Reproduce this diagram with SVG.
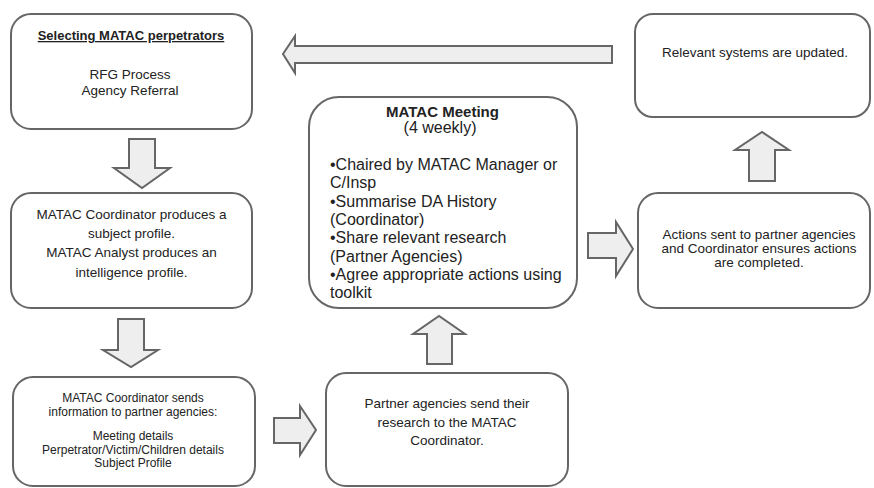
<svg xmlns="http://www.w3.org/2000/svg" width="874" height="488" viewBox="0 0 874 488">
<style>
.box{fill:#fff;stroke:#666;stroke-width:2}
.arr{fill:#eeeeee;stroke:#666;stroke-width:2;stroke-linejoin:miter}
text{font-family:"Liberation Sans",Arial,sans-serif;fill:#222;font-size:13.5px}
.c{text-anchor:middle}
.h{font-weight:bold;font-size:13px;text-decoration:underline}
.m{font-size:16px}
.mh{font-weight:bold;font-size:15px}
.s{font-size:12px}
</style>
<rect width="874" height="488" fill="#fff"/>
<g id="connectors">
<polygon class="arr" points="612,46 295,46 295,36 283,54 295,73 295,63 612,63"/>
<polygon class="arr" points="129,139 155,139 155,168 170,168 142,188 114,168 129,168"/>
<polygon class="arr" points="118,319 144,319 144,350 158,350 131,367 103,350 118,350"/>
<polygon class="arr" points="274,418 300,418 300,406 316,430 300,455 300,443 274,443"/>
<polygon class="arr" points="427,364 452,364 452,334 465,334 439,316 413,334 427,334"/>
<polygon class="arr" points="588,233 616,233 616,222 633,249 616,276 616,258 588,258"/>
<polygon class="arr" points="749,181 775,181 775,150 789,150 762,132 735,150 749,150"/>
</g>
<g id="node-select">
<rect class="box" x="11" y="14" width="241" height="115" rx="20"/>
<text class="c h" x="131" y="40">Selecting MATAC perpetrators</text>
<text class="c" x="130" y="79">RFG Process</text>
<text class="c" x="130" y="95">Agency Referral</text>
</g>
<g id="node-profile">
<rect class="box" x="11" y="193" width="241" height="115" rx="20"/>
<text class="c" x="131.5" y="219">MATAC Coordinator produces a</text>
<text class="c" x="131.5" y="238">subject profile.</text>
<text class="c" x="131.5" y="257">MATAC Analyst produces an</text>
<text class="c" x="131.5" y="277">intelligence profile.</text>
</g>
<g id="node-send">
<rect class="box" x="13" y="377" width="242" height="109" rx="20"/>
<text class="c s" x="133" y="402">MATAC Coordinator sends</text>
<text class="c s" x="133" y="415.5">information to partner agencies:</text>
<text class="c s" x="133" y="440">Meeting details</text>
<text class="c s" x="133" y="453.5">Perpetrator/Victim/Children details</text>
<text class="c s" x="133" y="467">Subject Profile</text>
</g>
<g id="node-research">
<rect class="box" x="326" y="373" width="242" height="113" rx="20"/>
<text class="c" x="447" y="408">Partner agencies send their</text>
<text class="c" x="447" y="427">research to the MATAC</text>
<text class="c" x="447" y="445">Coordinator.</text>
</g>
<g id="node-meeting">
<rect class="box" x="309" y="97" width="268" height="211" rx="30"/>
<text class="c mh" x="442.5" y="117">MATAC Meeting</text>
<text class="c m" x="440" y="133">(4 weekly)</text>
<text class="m" x="330" y="170">•Chaired by MATAC Manager or</text>
<text class="m" x="330" y="188">C/Insp</text>
<text class="m" x="330" y="206.5">•Summarise DA History</text>
<text class="m" x="330" y="225">(Coordinator)</text>
<text class="m" x="330" y="243">•Share relevant research</text>
<text class="m" x="330" y="261.5">(Partner Agencies)</text>
<text class="m" x="330" y="280">•Agree appropriate actions using</text>
<text class="m" x="330" y="298">toolkit</text>
</g>
<g id="node-actions">
<rect class="box" x="638" y="193" width="232" height="115" rx="20"/>
<text class="c" x="759" y="239">Actions sent to partner agencies</text>
<text class="c" x="759" y="253">and Coordinator ensures actions</text>
<text class="c" x="759" y="267">are completed.</text>
</g>
<g id="node-updated">
<rect class="box" x="635" y="14" width="235" height="103" rx="18"/>
<text class="c" x="755" y="57">Relevant systems are updated.</text>
</g>
</svg>
